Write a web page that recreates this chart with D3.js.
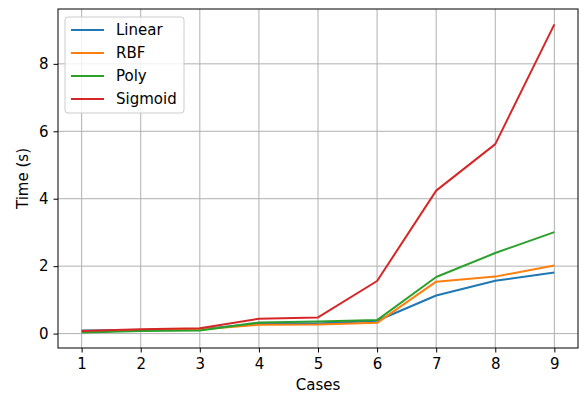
<!DOCTYPE html>
<html>
<head>
<meta charset="utf-8">
<style>
  body { margin: 0; background: #fff; }
  text { font-family: "DejaVu Sans", sans-serif; fill: #000; }
</style>
<script src="https://cdn.jsdelivr.net/npm/d3@7"></script>
</head>
<body>
<script>
// data
var cases = [1, 2, 3, 4, 5, 6, 7, 8, 9];
var linear  = [0.09, 0.11, 0.13, 0.30, 0.30, 0.38, 1.13, 1.57, 1.81];
var rbf     = [0.05, 0.10, 0.12, 0.26, 0.27, 0.32, 1.54, 1.69, 2.02];
var poly    = [0.03, 0.08, 0.09, 0.33, 0.36, 0.40, 1.68, 2.39, 3.01];
var sigmoid = [0.08, 0.13, 0.16, 0.44, 0.48, 1.56, 4.24, 5.62, 9.17];
var seriesNames = ["Linear", "RBF", "Poly", "Sigmoid"];
var colors = ["#1f77b4", "#ff7f0e", "#2ca02c", "#d62728"];
var yTicks = [0, 2, 4, 6, 8];

var series = [linear, rbf, poly, sigmoid].map(function(vals, i) {
  return { name: seriesNames[i], color: colors[i], values: vals };
});

var width = 584, height = 394;
var plotLeft = 58, plotRight = 578, plotTop = 9, plotBottom = 348;
var fontSize = "15px";

var svg = d3.select("body").append("svg")
    .attr("width", width)
    .attr("height", height);

// matplotlib style 5% margins
var allVals = d3.merge([linear, rbf, poly, sigmoid]);
var ymin = d3.min(allVals), ymax = d3.max(allVals);
var ypad = (ymax - ymin) * 0.05;
var xpad = (d3.max(cases) - d3.min(cases)) * 0.05;

var x = d3.scaleLinear()
    .domain([d3.min(cases) - xpad, d3.max(cases) + xpad])
    .range([plotLeft, plotRight]);
var y = d3.scaleLinear()
    .domain([ymin - ypad, ymax + ypad])
    .range([plotBottom, plotTop]);

// grid
svg.append("g").selectAll("line").data(cases).enter().append("line")
    .attr("x1", function(d) { return x(d); })
    .attr("x2", function(d) { return x(d); })
    .attr("y1", plotTop).attr("y2", plotBottom)
    .attr("stroke", "#b0b0b0").attr("stroke-width", 1);
svg.append("g").selectAll("line").data(yTicks).enter().append("line")
    .attr("y1", function(d) { return y(d); })
    .attr("y2", function(d) { return y(d); })
    .attr("x1", plotLeft).attr("x2", plotRight)
    .attr("stroke", "#b0b0b0").attr("stroke-width", 1);

// lines
var line = d3.line()
    .x(function(d, i) { return x(cases[i]); })
    .y(function(d) { return y(d); });

svg.append("g").selectAll("path").data(series).enter().append("path")
    .attr("fill", "none")
    .attr("stroke", function(d) { return d.color; })
    .attr("stroke-width", 2)
    .attr("stroke-linejoin", "round")
    .attr("d", function(d) { return line(d.values); });

// axes
var xAxis = svg.append("g")
    .attr("transform", "translate(0," + plotBottom + ")")
    .call(d3.axisBottom(x).tickValues(cases).tickFormat(d3.format("d")).tickSize(4.5).tickPadding(5));
var yAxis = svg.append("g")
    .attr("transform", "translate(" + plotLeft + ",0)")
    .call(d3.axisLeft(y).tickValues(yTicks).tickFormat(d3.format("d")).tickSize(4.5).tickPadding(5));

[xAxis, yAxis].forEach(function(a) {
  a.select(".domain").remove();
  a.selectAll("text").style("font-family", "DejaVu Sans, sans-serif").style("font-size", fontSize).attr("fill", "#000");
  a.selectAll("line").attr("stroke", "#000").attr("stroke-width", 1);
});
xAxis.selectAll("text").attr("dy", "0.75em");

// frame
svg.append("rect")
    .attr("x", plotLeft).attr("y", plotTop)
    .attr("width", plotRight - plotLeft).attr("height", plotBottom - plotTop)
    .attr("fill", "none").attr("stroke", "#000").attr("stroke-width", 1);

// axis labels
svg.append("text")
    .attr("x", (plotLeft + plotRight) / 2).attr("y", 390)
    .attr("text-anchor", "middle")
    .style("font-size", fontSize)
    .text("Cases");
svg.append("text")
    .attr("transform", "translate(28," + ((plotTop + plotBottom) / 2) + ") rotate(-90)")
    .attr("text-anchor", "middle")
    .style("font-size", fontSize)
    .text("Time (s)");

// legend
var legend = svg.append("g").attr("transform", "translate(65,17)");
legend.append("rect")
    .attr("width", 119).attr("height", 96)
    .attr("rx", 3)
    .attr("fill", "#fff").attr("fill-opacity", 0.8)
    .attr("stroke", "#ccc").attr("stroke-width", 1);
var items = legend.selectAll("g.item").data(series).enter().append("g")
    .attr("class", "item")
    .attr("transform", function(d, i) { return "translate(0," + (13 + i * 23) + ")"; });
items.append("line")
    .attr("x1", 6).attr("x2", 39)
    .attr("stroke", function(d) { return d.color; })
    .attr("stroke-width", 2);
items.append("text")
    .attr("x", 51).attr("dy", "0.35em")
    .style("font-size", fontSize)
    .text(function(d) { return d.name; });
</script>
</body>
</html>
